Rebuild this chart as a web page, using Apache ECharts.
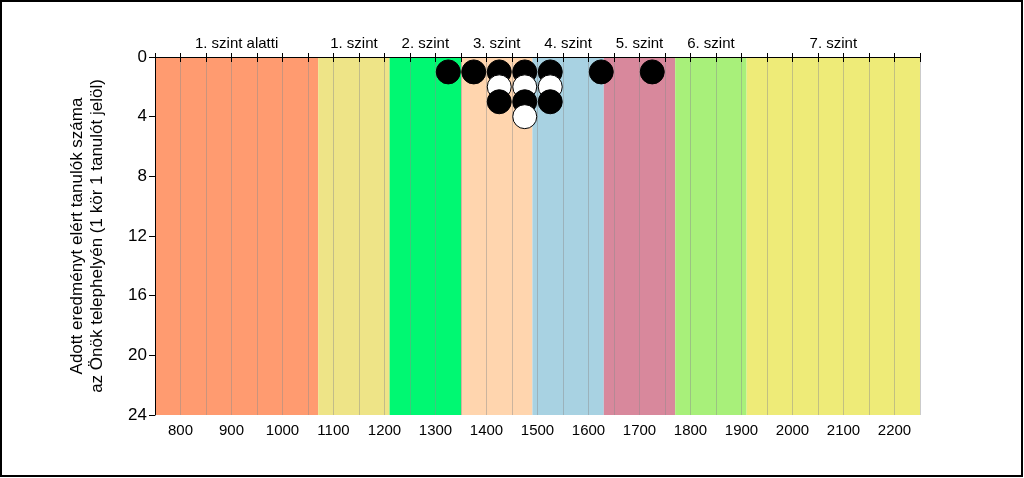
<!DOCTYPE html>
<html>
<head>
<meta charset="utf-8">
<script src="https://cdn.jsdelivr.net/npm/echarts@6/dist/echarts.min.js"></script>
<style>
html,body{margin:0;padding:0;background:#fff;}
#chart{width:1024px;height:478px;}
</style>
</head>
<body>
<div id="chart"></div>
<script>
// Data
const bandNames = ['1. szint alatti', '1. szint', '2. szint', '3. szint', '4. szint', '5. szint', '6. szint', '7. szint'];
const bandStarts = [750, 1070, 1210, 1350, 1490, 1630, 1770, 1910];
const bandEnds = [1070, 1210, 1350, 1490, 1630, 1770, 1910, 2250];
const pointScores = [1325, 1375, 1425, 1475, 1525, 1625, 1725];
const pointCounts = [1, 1, 3, 4, 3, 1, 1];
const yTicks = [0, 4, 8, 12, 16, 20, 24];
const xLabelTicks = [800, 900, 1000, 1100, 1200, 1300, 1400, 1500, 1600, 1700, 1800, 1900, 2000, 2100, 2200];

// Styles
const bandColors = ['#FF9B70', '#EEE487', '#00F872', '#FFD5AE', '#A8D2E2', '#D8889C', '#A8F07A', '#EEEB78'];
const FONT = 'Liberation Sans, Arial, sans-serif';

const circles = [];
pointScores.forEach((s, i) => {
  for (let k = 1; k <= pointCounts[i]; k++) {
    circles.push({ value: [s, k], itemStyle: { color: k % 2 === 1 ? '#000000' : '#FFFFFF' } });
  }
});
circles.sort((a, b) => a.value[1] - b.value[1]);

const areas = bandNames.map((n, i) => [
  { name: n, xAxis: bandStarts[i], itemStyle: { color: bandColors[i], opacity: 1 } },
  { xAxis: bandEnds[i] }
]);

const chart = echarts.init(document.getElementById('chart'), null, { renderer: 'canvas' });
chart.setOption({
  animation: false,
  backgroundColor: '#fff',
  textStyle: { fontFamily: FONT },
  graphic: [{
    type: 'rect', z: 100,
    shape: { x: 1, y: 1, width: 1021, height: 475 },
    style: { fill: 'none', stroke: '#000', lineWidth: 2 }
  }],
  grid: { left: 155, top: 57, right: 104, bottom: 63, containLabel: false },
  xAxis: [{
    type: 'value', position: 'bottom', min: 750, max: 2250, interval: 50, z: 5,
    axisLine: { show: true, lineStyle: { color: '#000', width: 1 } },
    axisTick: { show: true, inside: false, length: 5, lineStyle: { color: '#000' } },
    axisLabel: {
      color: '#000', fontSize: 15, fontFamily: FONT, margin: 8,
      formatter: v => xLabelTicks.includes(v) ? String(v) : ''
    },
    splitLine: { show: true, lineStyle: { color: 'rgba(140,140,140,0.45)', width: 1 } }
  }, {
    type: 'value', position: 'top', min: 750, max: 2250, interval: 50, z: 5,
    axisLine: { show: true, lineStyle: { color: '#000', width: 1 } },
    axisTick: { show: true, inside: false, length: 4, lineStyle: { color: '#000' } },
    axisLabel: { show: false },
    splitLine: { show: false }
  }],
  yAxis: {
    type: 'value', inverse: true, min: 0, max: 24, interval: 4, z: 5,
    axisLine: { show: true, lineStyle: { color: '#000', width: 1 } },
    axisTick: { show: true, length: 6, lineStyle: { color: '#000' } },
    axisLabel: { color: '#000', fontSize: 17, fontFamily: FONT, margin: 8,
      formatter: v => yTicks.includes(v) ? String(v) : '' },
    splitLine: { show: false },
    name: 'Adott eredményt elért tanulók száma\naz Önök telephelyén (1 kör 1 tanulót jelöl)',
    nameLocation: 'middle', nameGap: 48, nameRotate: 90,
    nameTextStyle: { color: '#000', fontSize: 17, fontFamily: FONT, lineHeight: 20 }
  },
  series: [{
    type: 'scatter', z: 1, data: [], xAxisIndex: 0, yAxisIndex: 0,
    markArea: {
      silent: true,
      label: { show: true, position: 'top', distance: 6, color: '#000', fontSize: 15, fontFamily: FONT },
      data: areas
    }
  }, {
    type: 'scatter', z: 10, xAxisIndex: 0, yAxisIndex: 0,
    symbol: 'circle', symbolSize: 24,
    itemStyle: { borderColor: '#000', borderWidth: 1, opacity: 1 },
    data: circles
  }]
});
</script>
</body>
</html>
